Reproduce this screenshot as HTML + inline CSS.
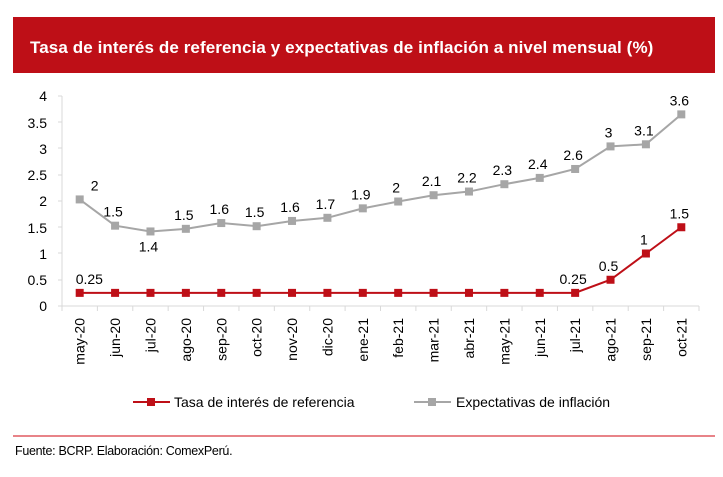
<!DOCTYPE html>
<html><head><meta charset="utf-8"><style>
body{margin:0;background:#fff;width:723px;height:472px;overflow:hidden;font-family:"Liberation Sans",Arial,sans-serif}
</style></head><body>
<svg width="723" height="472" xmlns="http://www.w3.org/2000/svg" font-family="Liberation Sans, Arial, sans-serif">
<rect x="13" y="17" width="702" height="56" fill="#be0f17"/>
<text x="30" y="53" fill="#fff" font-size="17" font-weight="bold" letter-spacing="0.1">Tasa de interés de referencia y expectativas de inflación a nivel mensual (%)</text>
<g stroke="#d9d9d9" stroke-width="1">
<line x1="62" y1="96" x2="62" y2="306"/>
<line x1="62" y1="306" x2="699" y2="306"/>
</g>
<g id="yt" font-size="14" text-anchor="end" fill="#000">
<text x="47" y="101">4</text><text x="47" y="128">3.5</text><text x="47" y="154">3</text><text x="47" y="180">2.5</text><text x="47" y="206">2</text><text x="47" y="233">1.5</text><text x="47" y="259">1</text><text x="47" y="285">0.5</text><text x="47" y="311">0</text>
</g>
<g stroke="#d9d9d9">
<line x1="58" y1="96" x2="62" y2="96"/><line x1="58" y1="122" x2="62" y2="122"/><line x1="58" y1="148" x2="62" y2="148"/><line x1="58" y1="175" x2="62" y2="175"/><line x1="58" y1="201" x2="62" y2="201"/><line x1="58" y1="227" x2="62" y2="227"/><line x1="58" y1="253" x2="62" y2="253"/><line x1="58" y1="280" x2="62" y2="280"/><line x1="58" y1="306" x2="62" y2="306"/>
</g>
<g id="chart"></g>
<line x1="133" y1="402" x2="170" y2="402" stroke="#be0f17" stroke-width="2"/>
<rect x="147" y="398" width="8" height="8" fill="#be0f17"/>
<text x="174" y="407" font-size="14">Tasa de interés de referencia</text>
<line x1="414" y1="402" x2="451" y2="402" stroke="#a6a6a6" stroke-width="2"/>
<rect x="428" y="398" width="8" height="8" fill="#a6a6a6"/>
<text x="456" y="407" font-size="14">Expectativas de inflación</text>
<line x1="13" y1="436" x2="715" y2="436" stroke="#e05a60" stroke-width="1.5"/>
<text x="15" y="455" font-size="12.5" letter-spacing="-0.3">Fuente: BCRP. Elaboración: ComexPerú.</text>
<script>
var g=document.getElementById('chart'),ns='http://www.w3.org/2000/svg';
var cats=['may-20','jun-20','jul-20','ago-20','sep-20','oct-20','nov-20','dic-20','ene-21','feb-21','mar-21','abr-21','may-21','jun-21','jul-21','ago-21','sep-21','oct-21'];
var gv=[2.03,1.53,1.42,1.47,1.58,1.52,1.62,1.68,1.86,1.99,2.11,2.18,2.32,2.44,2.61,3.04,3.08,3.65];
var gl=['2','1.5','1.4','1.5','1.6','1.5','1.6','1.7','1.9','2','2.1','2.2','2.3','2.4','2.6','3','3.1','3.6'];
var rv=[.25,.25,.25,.25,.25,.25,.25,.25,.25,.25,.25,.25,.25,.25,.25,.5,1,1.5];
var w=(699-62)/18;function X(i){return 62+w*(i+.5)}function Y(v){return 306-52.5*v}
function el(t,a,txt){var e=document.createElementNS(ns,t);for(var k in a)e.setAttribute(k,a[k]);if(txt)e.textContent=txt;g.appendChild(e);return e}
for(var i=0;i<=18;i++)el('line',{x1:62+w*i,y1:306,x2:62+w*i,y2:311,stroke:'#d9d9d9'});
cats.forEach(function(c,i){el('text',{transform:'translate('+(X(i)+5)+',318) rotate(-90)','text-anchor':'end','font-size':14},c)});
function series(v,col){el('polyline',{points:v.map(function(y,i){return X(i)+','+Y(y)}).join(' '),fill:'none',stroke:col,'stroke-width':2});
v.forEach(function(y,i){el('rect',{x:X(i)-4,y:Y(y)-4,width:8,height:8,fill:col})})}
series(gv,'#a6a6a6');series(rv,'#be0f17');
gl.forEach(function(l,i){var dx=(i==0?11:-2),dy=(i==2?20:-9),anc=(i==0?'start':'middle');el('text',{x:X(i)+dx,y:Y(gv[i])+dy,'font-size':14,'text-anchor':anc},l)});
[[0,'0.25'],[14,'0.25'],[15,'0.5'],[16,'1'],[17,'1.5']].forEach(function(p){var i=p[0];el('text',{x:X(i)+(i==0?-4:-2),y:Y(rv[i])-9,'font-size':14,'text-anchor':i==0?'start':'middle'},p[1])});
</script>
</svg>
</body></html>
